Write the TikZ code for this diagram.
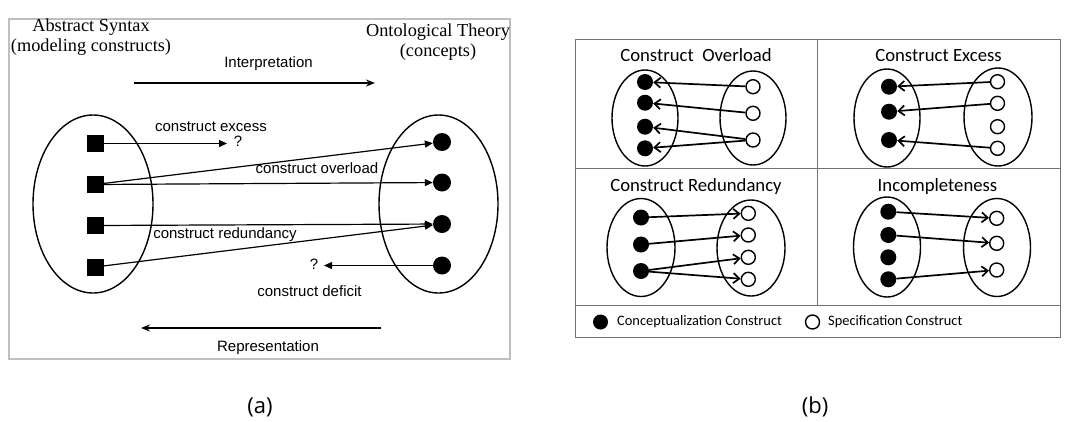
\documentclass[tikz,border=0pt]{standalone}
\usepackage{fontspec}
\setmainfont{Liberation Serif}
\newfontfamily\arialf{Liberation Sans}
\newfontfamily\calf{Carlito}
\newfontfamily\capf{Open Sans}
\usetikzlibrary{shapes.geometric,arrows.meta}
\begin{document}
\begin{tikzpicture}[x=1pt,y=-1pt,
  sq/.style={rectangle,fill=black,minimum size=17pt,inner sep=0},
  bdot/.style={circle,fill=black,minimum size=18pt,inner sep=0},
  ell/.style={ellipse,draw,line width=1.4pt,inner sep=0},
  alab/.style={font=\arialf\fontsize{15}{17}\selectfont,inner sep=0},
  ttl/.style={font=\fontsize{18.3}{20}\selectfont,inner sep=0,align=center},
  aarr/.style={line width=1.2pt,-{Triangle[length=8pt,width=7pt]}},
  bigarr/.style={line width=1.6pt,-{Stealth[length=9pt,width=7pt]}},
  aframe/.style={draw=black!25,line width=1.6pt},
  bframe/.style={draw=black!55,line width=1pt},
  bell/.style={ellipse,draw,line width=1.4pt,inner sep=0},
  fdot/.style={circle,fill=black,minimum size=16pt,inner sep=0},
  odot/.style={circle,draw,fill=white,line width=1.4pt,minimum size=14pt,inner sep=0},
  barr/.style={line width=1.7pt,-{Straight Barb[length=6pt,width=10pt]}},
  btitle/.style={font=\calf\fontsize{18.7}{20}\selectfont,inner sep=0},
  leg/.style={font=\calf\fontsize{14.4}{16}\selectfont,inner sep=0,anchor=west},
  captxt/.style={font=\capf\fontsize{22}{24}\selectfont,inner sep=0}
]
\useasboundingbox (0,0) rectangle (1067,421);

% ---------------- panel (a)
\draw[aframe] (9,19) rectangle (510,359);
\node[ttl] (tA) at (91,37) {Abstract Syntax\\(modeling constructs)};
\node[ttl] (tO) at (438,42.5) {Ontological Theory\\(concepts)};

\node[alab] (interp) at (268.5,64) {Interpretation};
\coordinate (i1) at (134,83);
\coordinate (i2) at (375,83);
\draw[bigarr] (i1) -- (i2);

\node[ell,minimum width=120pt,minimum height=178pt] (LA) at (93,204) {};
\node[ell,minimum width=119pt,minimum height=178pt] (RA) at (438.5,204) {};

\node[sq] (s1) at (95,143.5) {};
\node[sq] (s2) at (95,184.5) {};
\node[sq] (s3) at (95,225.5) {};
\node[sq] (s4) at (95,267) {};
\node[bdot] (c1) at (442,142) {};
\node[bdot] (c2) at (442,182.5) {};
\node[bdot] (c3) at (442,224) {};
\node[bdot] (c4) at (442,265.5) {};

\node[alab] (lexc) at (211,126.5) {construct excess};
\node[alab] (qa) at (238,141) {?};
\coordinate (ea) at (227,143.5);
\draw[aarr] (s1) -- (ea);

\draw[aarr] (s2) -- (c1);
\draw[aarr] (s2) -- (c2);
\node[alab] (lover) at (317,168.6) {construct overload};

\draw[aarr] (s3) -- (c3);
\draw[aarr] (s4) -- (c3);
\node[alab] (lred) at (225,235) {construct redundancy};

\coordinate (da) at (324,265.5);
\draw[aarr] (c4) -- (da);
\node[alab] (qd) at (314,264) {?};
\node[alab] (ldef) at (309.5,291) {construct deficit};

\coordinate (r1) at (381,328);
\coordinate (r2) at (141,328);
\draw[bigarr] (r1) -- (r2);
\node[alab] (repr) at (268,348) {Representation};

% ---------------- panel (b)
\draw[bframe] (575,39) rectangle (1060,337);
\draw[bframe] (817,39) -- (817,305);
\draw[bframe] (575,168) -- (1060,168);
\draw[bframe] (575,305) -- (1060,305);

% Q1 Construct Overload
\node[btitle] (t1) at (696,55) {Construct\ \ Overload};
\node[bell,minimum width=66pt,minimum height=96pt] (q1l) at (645,118) {};
\node[bell,minimum width=66pt,minimum height=94pt] (q1r) at (753,118) {};
\node[fdot] (a1) at (645,82) {};
\node[fdot] (a2) at (645,102.7) {};
\node[fdot] (a3) at (645,126.7) {};
\node[fdot] (a4) at (645,148.3) {};
\node[odot] (b1) at (753,86.7) {};
\node[odot] (b2) at (753,113.3) {};
\node[odot] (b3) at (753,140) {};
\draw[barr] (b1) -- (a1);
\draw[barr] (b2) -- (a2);
\draw[barr] (b3) -- (a3);
\draw[barr] (b3) -- (a4);

% Q2 Construct Excess
\node[btitle] (t2) at (938.5,55) {Construct Excess};
\node[bell,minimum width=66pt,minimum height=98pt] (q2l) at (887,118) {};
\node[bell,minimum width=68pt,minimum height=98pt] (q2r) at (998,117) {};
\node[fdot] (e1) at (889,86.7) {};
\node[fdot] (e2) at (889,111.7) {};
\node[fdot] (e3) at (889,140) {};
\node[odot] (g1) at (997.5,81.7) {};
\node[odot] (g2) at (997.5,103.3) {};
\node[odot] (g3) at (997.5,126.7) {};
\node[odot] (g4) at (997.5,148.3) {};
\draw[barr] (g1) -- (e1);
\draw[barr] (g2) -- (e2);
\draw[barr] (g4) -- (e3);

% Q3 Construct Redundancy
\node[btitle] (t3) at (696,187) {Construct Redundancy};
\node[bell,minimum width=68pt,minimum height=98pt] (q3l) at (641,247.5) {};
\node[bell,minimum width=68pt,minimum height=96pt] (q3r) at (751,248) {};
\node[fdot] (h1) at (641,217.5) {};
\node[fdot] (h2) at (641,244.5) {};
\node[fdot] (h3) at (641,271) {};
\node[odot] (k1) at (748.3,213.3) {};
\node[odot] (k2) at (748.3,235) {};
\node[odot] (k3) at (748.3,257.3) {};
\node[odot] (k4) at (748.3,279.3) {};
\draw[barr] (h1) -- (k1);
\draw[barr] (h2) -- (k2);
\draw[barr] (h3) -- (k3);
\draw[barr] (h3) -- (k4);

% Q4 Incompleteness
\node[btitle] (t4) at (937.5,187) {Incompleteness};
\node[bell,minimum width=67pt,minimum height=100pt] (q4l) at (887,247) {};
\node[bell,minimum width=67pt,minimum height=98pt] (q4r) at (997,247.5) {};
\node[fdot] (m1) at (888.3,211.7) {};
\node[fdot] (m2) at (888.3,235) {};
\node[fdot] (m3) at (888.3,257.3) {};
\node[fdot] (m4) at (888.3,279.3) {};
\node[odot] (n1) at (996.7,218.3) {};
\node[odot] (n2) at (996.7,243.3) {};
\node[odot] (n3) at (996.7,270) {};
\draw[barr] (m1) -- (n1);
\draw[barr] (m2) -- (n2);
\draw[barr] (m4) -- (n3);

% legend
\node[fdot,minimum size=15pt] (lf) at (600.5,322) {};
\node[leg] (lft) at (617,322) {Conceptualization Construct};
\node[odot,minimum size=14pt] (lo) at (812.5,322) {};
\node[leg] (lot) at (828,322) {Specification Construct};

% captions
\node[captxt] (capa) at (260,407) {(a)};
\node[captxt] (capb) at (815,407) {(b)};
\end{tikzpicture}
\end{document}
